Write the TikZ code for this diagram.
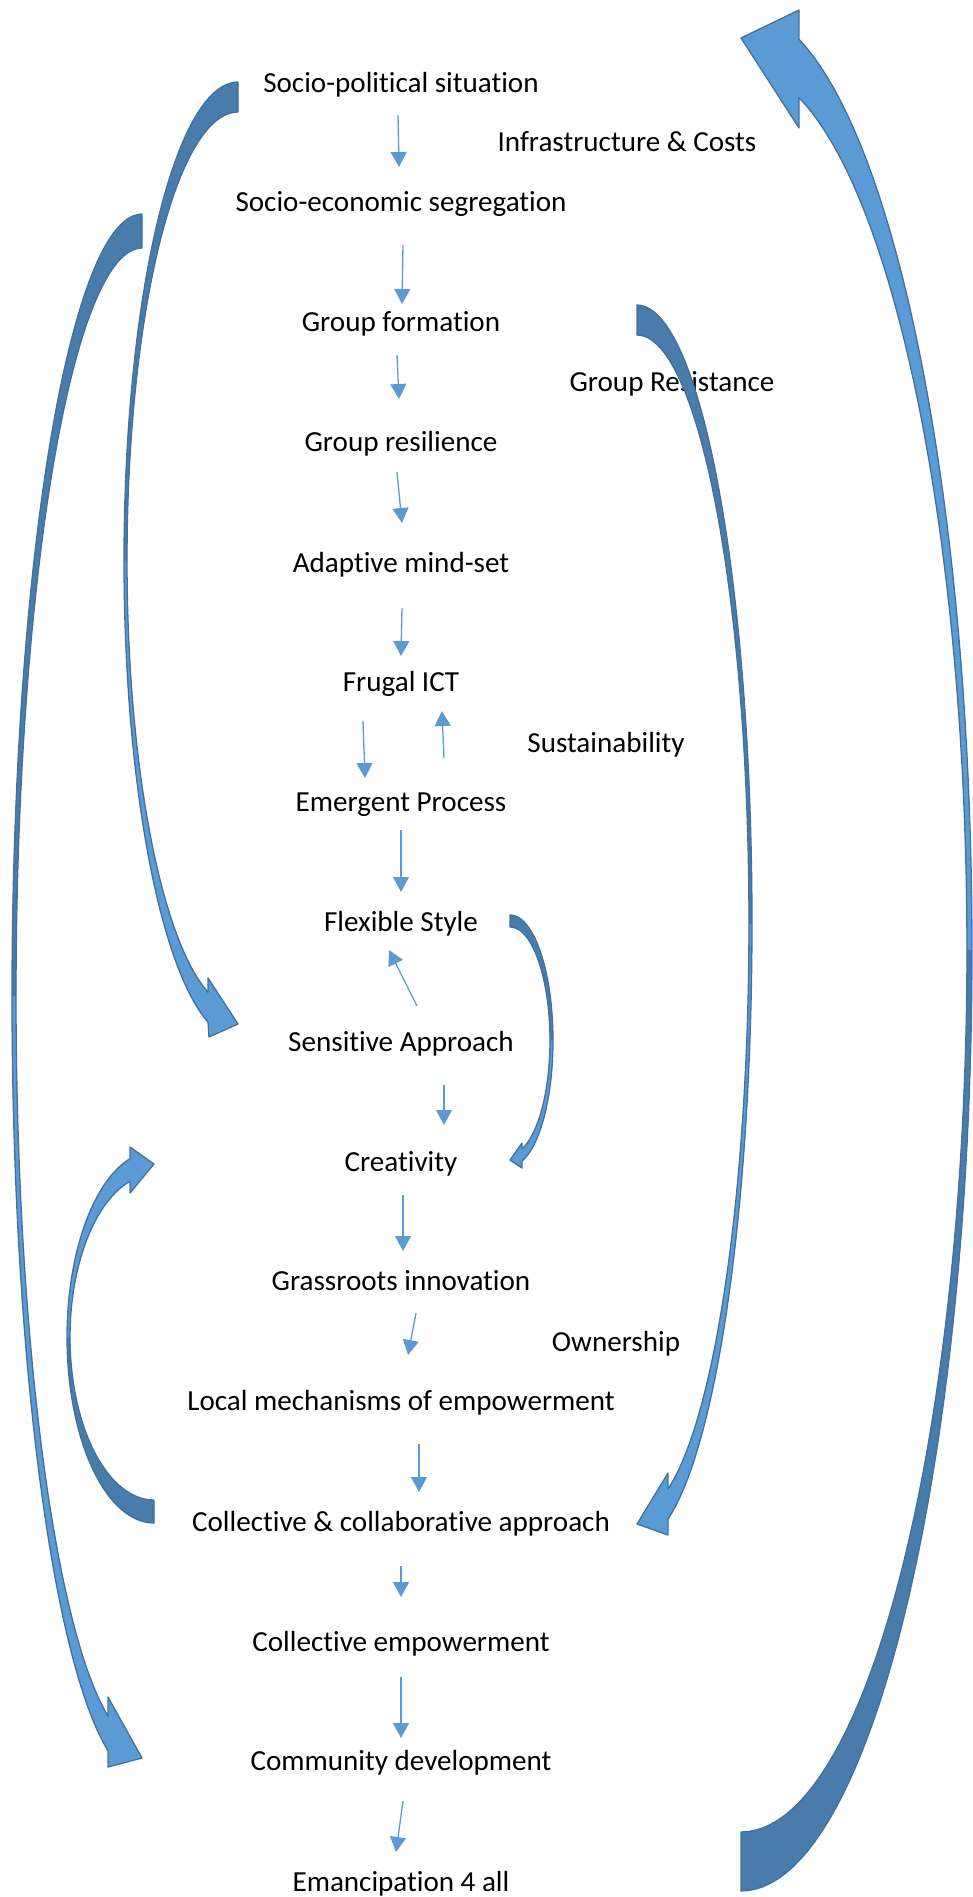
\documentclass[tikz,border=0pt]{standalone}
\usepackage{fontspec}
\setmainfont{Carlito}[Ligatures=NoCommon]
\usetikzlibrary{arrows.meta}
\definecolor{lightblue}{HTML}{5B9BD5}
\definecolor{darkblue}{HTML}{487CAA}
\definecolor{edgeblue}{HTML}{41719C}

% ring-shaped arrow bands: outer/inner half ellipses around a common centre
\newcommand\bandRone{(741,1891) -- plot[domain=90:-75.46,samples=90] ({741+231*cos(\x)},{950+941*sin(\x)})
  -- (799,10) -- (741,38) -- (799,128)
  -- plot[domain=-75.13:90,samples=90] ({741+226*cos(\x)},{950+882*sin(\x)}) -- cycle}
\newcommand\backRone{plot[domain=90:0,samples=60] ({741+231*cos(\x)},{950+941*sin(\x)})
  -- plot[domain=0:90,samples=60] ({741+226*cos(\x)},{950+882*sin(\x)}) -- cycle}

\newcommand\bandLone{(142,214) -- plot[domain=-90:74.84,samples=90] ({142-130*cos(\x)},{996+782*sin(\x)})
  -- (108,1767) -- (142,1758) -- (108,1697)
  -- plot[domain=74.35:-90,samples=90] ({142-126*cos(\x)},{996+748*sin(\x)}) -- cycle}
\newcommand\backLone{plot[domain=-90:0,samples=60] ({142-130*cos(\x)},{996+782*sin(\x)})
  -- plot[domain=0:-90,samples=60] ({142-126*cos(\x)},{996+748*sin(\x)}) -- cycle}

\newcommand\bandLtwo{(238,82) -- plot[domain=-90:74.74,samples=80] ({238-114*cos(\x)},{560.5+478.5*sin(\x)})
  -- (209,1037) -- (238,1024) -- (208,978)
  -- plot[domain=74.32:-90,samples=80] ({238-111*cos(\x)},{560.5+448.5*sin(\x)}) -- cycle}
\newcommand\backLtwo{plot[domain=-90:0,samples=50] ({238-114*cos(\x)},{560.5+478.5*sin(\x)})
  -- plot[domain=0:-90,samples=50] ({238-111*cos(\x)},{560.5+448.5*sin(\x)}) -- cycle}

\newcommand\bandRtwo{(637,305) -- plot[domain=-90:74.36,samples=80] ({637+115*cos(\x)},{923.5+618.5*sin(\x)})
  -- (668,1535) -- (637,1524) -- (668,1473)
  -- plot[domain=73.93:-90,samples=80] ({637+112*cos(\x)},{923.5+588.5*sin(\x)}) -- cycle}
\newcommand\backRtwo{plot[domain=-90:0,samples=50] ({637+115*cos(\x)},{923.5+618.5*sin(\x)})
  -- plot[domain=0:-90,samples=50] ({637+112*cos(\x)},{923.5+588.5*sin(\x)}) -- cycle}

\newcommand\bandRthree{(510,915) -- plot[domain=-90:73.8,samples=60] ({510+43*cos(\x)},{1040.5+125.5*sin(\x)})
  -- (522,1168) -- (510,1160) -- (522,1143)
  -- plot[domain=72.54:-90,samples=60] ({510+40*cos(\x)},{1040.5+113.5*sin(\x)}) -- cycle}
\newcommand\backRthree{plot[domain=-90:0,samples=40] ({510+43*cos(\x)},{1040.5+125.5*sin(\x)})
  -- plot[domain=0:-90,samples=40] ({510+40*cos(\x)},{1040.5+113.5*sin(\x)}) -- cycle}

\newcommand\bandLthree{(154,1523) -- plot[domain=90:-73.99,samples=60] ({154-87*cos(\x)},{1337.2+185.8*sin(\x)})
  -- (130,1147) -- (154,1164) -- (130,1193)
  -- plot[domain=-73.4:90,samples=60] ({154-84*cos(\x)},{1337.2+162.8*sin(\x)}) -- cycle}
\newcommand\backLthree{plot[domain=90:0,samples=40] ({154-87*cos(\x)},{1337.2+185.8*sin(\x)})
  -- plot[domain=0:90,samples=40] ({154-84*cos(\x)},{1337.2+162.8*sin(\x)}) -- cycle}

\begin{document}
\begin{tikzpicture}[x=0.5pt,y=-0.5pt,
  lbl/.style={font=\fontsize{14.55}{17}\selectfont, anchor=base, inner sep=0pt},
  flow/.style={draw=lightblue, line width=0.65pt, -{Triangle[width=8pt,length=7.5pt]}},
  bandfill/.style={fill=lightblue},
  backfill/.style={fill=darkblue},
  bandedge/.style={draw=edgeblue, line width=0.65pt, line join=round}]
\useasboundingbox (0,0) rectangle (973,1897);

% main chain of labels
\node[lbl] (n1)  at (401,92)   {Socio-political situation};
\node[lbl] (n2)  at (401,211)  {Socio-economic segregation};
\node[lbl] (n3)  at (401,331)  {Group formation};
\node[lbl] (n4)  at (401,451)  {Group resilience};
\node[lbl] (n5)  at (401,572)  {Adaptive mind-set};
\node[lbl] (n6)  at (401,691)  {Frugal ICT};
\node[lbl] (n7)  at (401,811)  {Emergent Process};
\node[lbl] (n8)  at (401,931)  {Flexible Style};
\node[lbl] (n9)  at (401,1051) {Sensitive Approach};
\node[lbl] (n10) at (401,1171) {Creativity};
\node[lbl] (n11) at (401,1290) {Grassroots innovation};
\node[lbl] (n12) at (401,1410) {Local mechanisms of empowerment};
\node[lbl] (n13) at (401,1531) {Collective \& collaborative approach};
\node[lbl] (n14) at (401,1651) {Collective empowerment};
\node[lbl] (n15) at (401,1770) {Community development};
\node[lbl] (n16) at (401,1891) {Emancipation 4 all};

% side labels
\node[lbl] (infra) at (627,151)  {Infrastructure \& Costs};
\node[lbl] (resis) at (672,391)  {Group Resistance};
\node[lbl] (sust)  at (606,752)  {Sustainability};
\node[lbl] (own)   at (616,1351) {Ownership};

% curved feedback arrows, laid over the labels
\foreach \b/\k in {\bandRone/\backRone,\bandLone/\backLone,\bandLtwo/\backLtwo,
                   \bandRtwo/\backRtwo,\bandRthree/\backRthree,\bandLthree/\backLthree}{
  \fill[bandfill] \b;
  \fill[backfill] \k;
  \draw[bandedge] \b;
}

% short connector ends
\coordinate (a1s) at (398,115);  \coordinate (a1e) at (399,167);
\coordinate (a2s) at (403,245);  \coordinate (a2e) at (402,304);
\coordinate (a3s) at (397,355);  \coordinate (a3e) at (399,399);
\coordinate (a4s) at (397,472);  \coordinate (a4e) at (402,523);
\coordinate (a5s) at (402,608);  \coordinate (a5e) at (401,656);
\coordinate (a6s) at (363,721);  \coordinate (a6e) at (365,778);
\coordinate (a7s) at (444,758);  \coordinate (a7e) at (442,711);
\coordinate (a8s) at (401,830);  \coordinate (a8e) at (401,892);
\coordinate (a9s) at (417,1006); \coordinate (a9e) at (389,950);
\coordinate (a10s) at (444,1085); \coordinate (a10e) at (444,1125);
\coordinate (a11s) at (403,1195); \coordinate (a11e) at (403,1251);
\coordinate (a12s) at (416,1313); \coordinate (a12e) at (408,1355);
\coordinate (a13s) at (419,1444); \coordinate (a13e) at (419,1492);
\coordinate (a14s) at (401,1566); \coordinate (a14e) at (401,1597);
\coordinate (a15s) at (401,1677); \coordinate (a15e) at (401,1738);
\coordinate (a16s) at (403,1801); \coordinate (a16e) at (396,1852);

\foreach \i in {1,...,16}{
  \draw[flow] (a\i s) -- (a\i e);
}
\end{tikzpicture}
\end{document}
